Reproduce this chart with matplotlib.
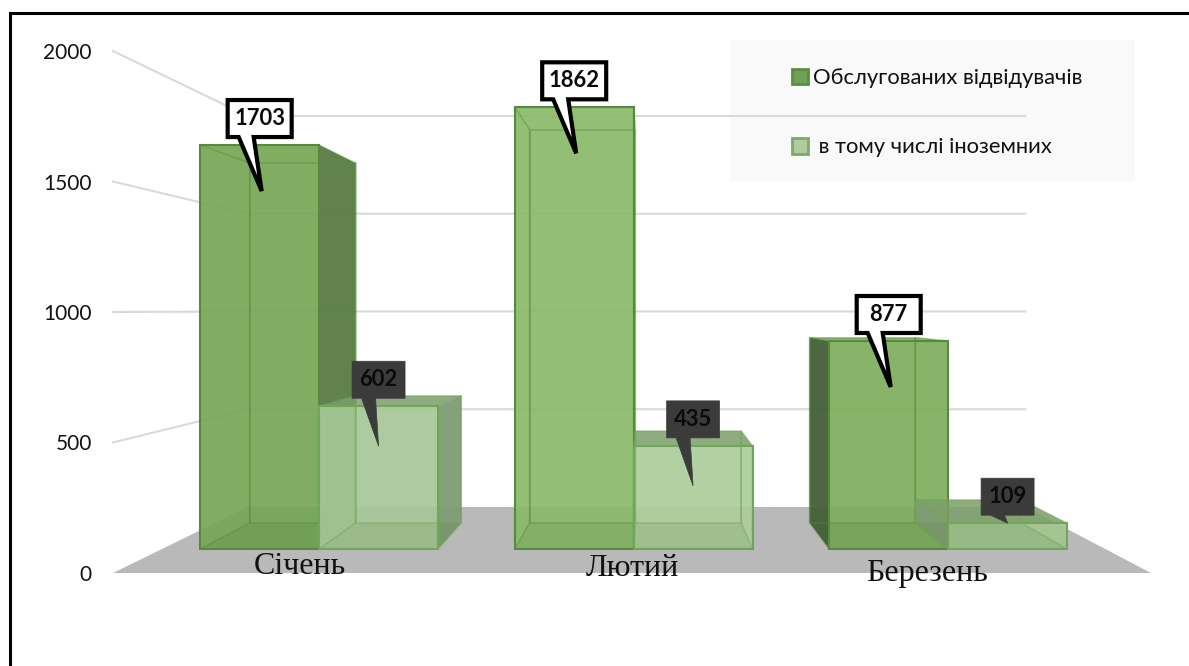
import matplotlib
matplotlib.use("Agg")
import matplotlib.pyplot as plt
from matplotlib.lines import Line2D
from matplotlib.patches import Polygon, Patch, Rectangle

plt.rcParams["font.family"] = ["Lato", "Open Sans", "DejaVu Sans"]

months = ["Січень", "Лютий", "Березень"]
visitors = [1703, 1862, 877]
foreigners = [602, 435, 109]
series_names = ["Обслугованих відвідувачів", " в тому числі іноземних"]
value_ticks = [0, 500, 1000, 1500, 2000]

# screen scales of the nearest plane
PX_PER_SLOT = 346.0
PX_PER_VALUE = 0.261
X0_PX = 113.0
Y0_PX = 573.0

# perspective: vanishing point and depth factors
VANISH_X = (650 - X0_PX) / PX_PER_SLOT
VANISH_V = (Y0_PX - 310) / PX_PER_VALUE
WALL = 0.749
BAR_FRONT = 0.909
BAR_BACK = 0.809
BAR_START = 0.122
BAR_WIDTH = 0.378


def project(x, v, s):
    return VANISH_X + s * (x - VANISH_X), VANISH_V + s * (v - VANISH_V)


def dx(px):
    return px / PX_PER_SLOT


def dv(px):
    return px / PX_PER_VALUE


fig = plt.figure(figsize=(11.89, 6.66), dpi=100)
ax = fig.add_axes([0, 0, 1, 1])
ax.set_xlim(-X0_PX / PX_PER_SLOT, (1189 - X0_PX) / PX_PER_SLOT)
ax.set_ylim((Y0_PX - 666) / PX_PER_VALUE, Y0_PX / PX_PER_VALUE)
for sp in ax.spines.values():
    sp.set_visible(False)

ax.set_xticks([])
ax.set_yticks(value_ticks)
ax.tick_params(axis="y", length=0, direction="in", pad=-92 * 0.72, labelsize=15, labelcolor="#111111")

# legend background sits under the grid
ax.add_patch(Rectangle((730 / 1189, 1 - 181 / 666), 405 / 1189, 141 / 666, transform=ax.transAxes,
                       facecolor="#f9f9f9", edgecolor="none", zorder=1))

# side wall and back wall grid lines
for t in value_ticks[1:]:
    x1, y1 = project(0, t, WALL)
    x2, y2 = project(3, t, WALL)
    ax.plot([0, x1, x2], [t, y1, y2], color="#d9d9d9", lw=1.5, zorder=2)

# floor
ax.add_patch(Polygon([project(0, 0, 1), project(3, 0, 1), project(3, 0, WALL), project(0, 0, WALL)],
                     facecolor="#b9b9b9", edgecolor="none", zorder=2))


def draw_bar(x0, x1, value, front_col, side_col, top_col, edge_col, z):
    fbl, fbr = project(x0, 0, BAR_FRONT), project(x1, 0, BAR_FRONT)
    ftl, ftr = project(x0, value, BAR_FRONT), project(x1, value, BAR_FRONT)
    bbl, bbr = project(x0, 0, BAR_BACK), project(x1, 0, BAR_BACK)
    btl, btr = project(x0, value, BAR_BACK), project(x1, value, BAR_BACK)

    # outer side faces are the dark ones, inner ones only show as a tint
    if btr[0] > ftr[0] + dx(3):
        ax.add_patch(Polygon([ftr, btr, bbr, fbr], facecolor=side_col, edgecolor="none", alpha=0.95, zorder=z))
    if btl[0] < ftl[0] - dx(3):
        ax.add_patch(Polygon([ftl, btl, bbl, fbl], facecolor=side_col, edgecolor="none", alpha=0.95, zorder=z))
    if btl[1] > ftl[1]:
        ax.add_patch(Polygon([ftl, ftr, btr, btl], facecolor=top_col, edgecolor="none", alpha=0.85, zorder=z))

    ax.add_patch(Polygon([fbl, fbr, ftr, ftl], facecolor=front_col, edgecolor="none", alpha=0.92, zorder=z))
    ax.add_patch(Polygon([fbl, fbr, bbr, bbl], facecolor="#3f6b2a", edgecolor="none", alpha=0.12, zorder=z))

    # box edges, the hidden ones are seen through the glass
    for face in ([bbl, bbr, btr, btl], [fbl, bbl, btl, ftl], [fbr, bbr, btr, ftr]):
        ax.add_patch(Polygon(face, closed=True, fill=False, edgecolor=edge_col, lw=1.1, alpha=0.45, zorder=z))
    ax.add_patch(Polygon([fbl, fbr, ftr, ftl], fill=False, edgecolor=edge_col, lw=1.5, zorder=z))


def callout(xc, value, drop, fill, edge, lw, half_w, base, tip):
    # box with a pointer dropping onto the top of the bar
    xm, top = project(xc, value, BAR_FRONT)
    bottom = top + dv(8)
    height = dv(37)
    shape = [
        (xm - dx(half_w), bottom),
        (xm + dx(base[0]), bottom),
        (xm + dx(tip), top - dv(drop)),
        (xm + dx(base[1]), bottom),
        (xm + dx(half_w), bottom),
        (xm + dx(half_w), bottom + height),
        (xm - dx(half_w), bottom + height),
    ]
    ax.add_patch(Polygon(shape, facecolor=fill, edgecolor=edge, lw=lw, joinstyle="miter", zorder=20))
    ax.text(xm, bottom + height / 2, str(value), ha="center", va="center", fontsize=15.8,
            fontweight="bold", color="#0a0a0a", zorder=21)


front_dark = ["#75a655", "#8aba69", "#7dae5b"]
side_dark = ["#587b43", "#587b43", "#425f37"]
front_light = ["#a6c796", "#accd9a", "#a3c68f"]
dark_tip_drop = [40, 40, 0]

for i in range(3):
    x0 = i + BAR_START
    draw_bar(x0, x0 + BAR_WIDTH, visitors[i], front_dark[i], side_dark[i], "#79a95a", "#558b3a", 5)
for i in range(3):
    x0 = i + BAR_START + BAR_WIDTH
    draw_bar(x0, x0 + BAR_WIDTH, foreigners[i], front_light[i], "#7f9c74", "#7c9e68", "#6fa658", 6)

for i in range(3):
    callout(i + BAR_START + BAR_WIDTH / 2, visitors[i], 46, "white", "black", 3, 32, (-21, -6), 2)
    callout(i + BAR_START + BAR_WIDTH * 1.5, foreigners[i], dark_tip_drop[i], "#3b3b3b", "#3b3b3b", 0.5, 26.5,
            (-17, -3), 0)

# month labels
label_nudge = [14, 0, -51]
label_drop = [2, 4, 9]
for i, m in enumerate(months):
    ax.text(i + 0.5 + dx(label_nudge[i]), dv(8 - label_drop[i]), m, ha="center", va="center",
            fontsize=23, family="Liberation Serif", color="#111111", zorder=22)

handles = [Patch(facecolor="#729f57", edgecolor="#5a8f3f", lw=2),
           Patch(facecolor="#b0cba3", edgecolor="#7cab63", lw=2)]
ax.legend(handles, series_names, loc="upper left", bbox_to_anchor=(792 / 1189, 1 - 68 / 666),
          frameon=False, fontsize=15.8, handlelength=0.72, handleheight=0.72, handletextpad=0.25,
          labelspacing=2.25, borderpad=0, borderaxespad=0, labelcolor="#111111")

# heavy rule along the top and left of the chart
fig.add_artist(Line2D([9.5 / 1189, 9.5 / 1189, 1], [0, 1 - 13 / 666, 1 - 13 / 666], transform=fig.transFigure,
                      color="black", lw=2.2, solid_joinstyle="miter"))

fig.savefig("out.png", dpi=100, facecolor="white")
